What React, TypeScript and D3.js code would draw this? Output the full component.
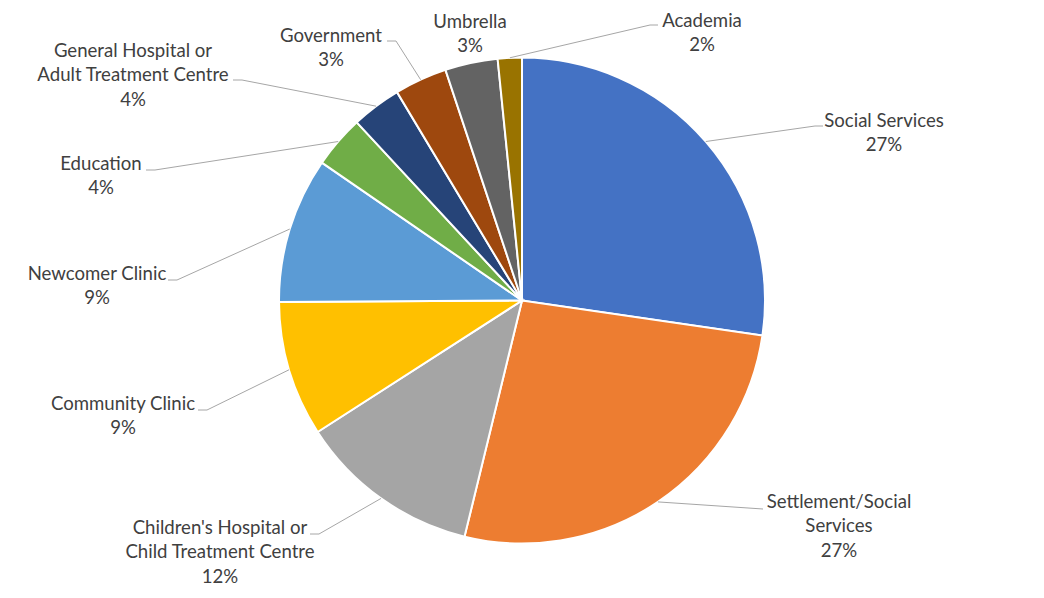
import React from "react";
import * as d3 from "d3";

const categories = [
  "Social Services",
  "Settlement/Social Services",
  "Children's Hospital or Child Treatment Centre",
  "Community Clinic",
  "Newcomer Clinic",
  "Education",
  "General Hospital or Adult Treatment Centre",
  "Government",
  "Umbrella",
  "Academia",
];
const values = [27.3, 26.5, 12.1, 9.0, 9.7, 3.5, 3.3, 3.5, 3.5, 1.6];
const pctLabels = ["27%", "27%", "12%", "9%", "9%", "4%", "4%", "3%", "3%", "2%"];
const labelLines = [
  ["Social Services"],
  ["Settlement/Social", "Services"],
  ["Children's Hospital or", "Child Treatment Centre"],
  ["Community Clinic"],
  ["Newcomer Clinic"],
  ["Education"],
  ["General Hospital or", "Adult Treatment Centre"],
  ["Government"],
  ["Umbrella"],
  ["Academia"],
];
const colors = [
  "#4472C4", "#ED7D31", "#A5A5A5", "#FFC000", "#5B9BD5",
  "#70AD47", "#264478", "#9E480E", "#636363", "#997300",
];

// label layout (Excel best-fit positions), cx/y = text centre and first baseline
const labelLayout = [
  { cx: 884, y: 127, elbow: [815, 126], end: [823, 126] },
  { cx: 839, y: 508, elbow: [763, 509], end: [763, 509] },
  { cx: 220, y: 534, elbow: [319, 534], end: [310, 534] },
  { cx: 123, y: 410, elbow: [207, 410], end: [198, 410] },
  { cx: 97, y: 280, elbow: [177, 280], end: [168, 280] },
  { cx: 101, y: 170, elbow: [155, 170], end: [146, 170] },
  { cx: 133, y: 57, elbow: [242, 80], end: [233, 80] },
  { cx: 331, y: 42, elbow: [396, 41], end: [387, 41] },
  { cx: 470, y: 28, elbow: null, end: null },
  { cx: 702, y: 27, elbow: [650, 25], end: [658, 25] },
];

const width = 1044;
const height = 598;
const cx = 522;
const cy = 300.5;
const radius = 243;
const lineH = 24.3;

export default function App() {
  const pie = d3.pie<number>().sort(null).value((d) => d);
  const arcs = pie(values);
  const arc = d3.arc<d3.PieArcDatum<number>>().innerRadius(0).outerRadius(radius);

  return (
    <svg
      width={width}
      height={height}
      style={{ position: "absolute", left: 0, top: 0, background: "#fff" }}
      fontFamily="Lato, 'Open Sans', sans-serif"
      fontSize={18.6}
    >
      <g transform={`translate(${cx},${cy})`}>
        {arcs.map((a, i) => (
          <path key={categories[i]} d={arc(a) || ""} fill={colors[i]} stroke="#fff" strokeWidth={2} />
        ))}
      </g>
      {arcs.map((a, i) => {
        const lay = labelLayout[i];
        if (!lay.elbow || !lay.end) return null;
        const mid = (a.startAngle + a.endAngle) / 2;
        const px = cx + radius * Math.sin(mid);
        const py = cy - radius * Math.cos(mid);
        return (
          <polyline
            key={"l" + i}
            points={`${px},${py} ${lay.elbow[0]},${lay.elbow[1]} ${lay.end[0]},${lay.end[1]}`}
            fill="none"
            stroke="#A6A6A6"
            strokeWidth={1}
          />
        );
      })}
      {labelLines.map((lines, i) => {
        const lay = labelLayout[i];
        const all = [...lines, pctLabels[i]];
        return (
          <text key={"t" + i} x={lay.cx} y={lay.y} textAnchor="middle" fill="#404040">
            {all.map((s, j) => (
              <tspan key={j} x={lay.cx} dy={j === 0 ? 0 : lineH}>
                {s}
              </tspan>
            ))}
          </text>
        );
      })}
    </svg>
  );
}
